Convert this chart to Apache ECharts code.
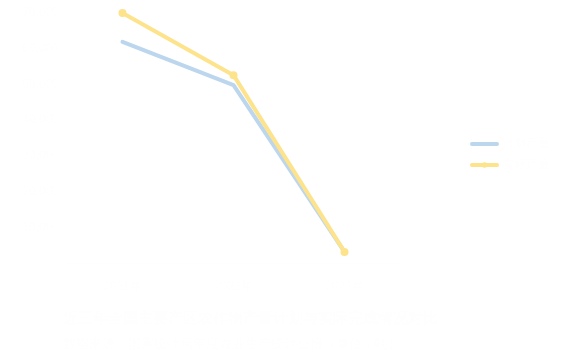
<!DOCTYPE html>
<html>
<head>
<meta charset="utf-8">
<script src="https://cdn.jsdelivr.net/npm/echarts@6/dist/echarts.min.js"></script>
<style>html,body{margin:0;padding:0;background:#fff;}#c{width:575px;height:362px;}</style>
</head>
<body>
<div id="c"></div>
<script>
var categories = ['2021年', '2022年', '2023年'];
var seriesNames = ['计划产量', '实际产量'];
var planValues = [61900, 49800, 3100];
var actualValues = [70000, 52600, 3100];
var yMin = 0, yMax = 70000, yInterval = 10000;
var titleText = '近三年全国主要产区农作物产量计划与实际完成情况对比';
var subText = '数据来源：国家统计局年度农业生产统计公报（单位：吨）';

var textColor = '#fefefe';
var chart = echarts.init(document.getElementById('c'));
chart.setOption({
  backgroundColor: '#ffffff',
  animation: false,
  title: {
    text: titleText,
    subtext: subText,
    left: 58,
    top: 306,
    itemGap: 12,
    textStyle: { color: textColor, fontSize: 15, fontWeight: 'bold' },
    subtextStyle: { color: textColor, fontSize: 13 }
  },
  legend: {
    orient: 'vertical',
    right: 20,
    top: 133,
    itemWidth: 25,
    itemHeight: 7,
    itemGap: 9,
    textStyle: { color: textColor },
    data: [
      { name: seriesNames[0], itemStyle: { opacity: 0 }, lineStyle: { width: 4, cap: 'round' } },
      { name: seriesNames[1], lineStyle: { width: 4, cap: 'round' } }
    ]
  },
  grid: { left: 67, right: 175, top: 13, bottom: 99 },
  xAxis: {
    type: 'category',
    data: categories,
    boundaryGap: true,
    axisLine: { lineStyle: { color: textColor } },
    axisTick: { show: false },
    axisLabel: { color: textColor, fontSize: 12, margin: 18 }
  },
  yAxis: {
    type: 'value',
    min: yMin, max: yMax, interval: yInterval,
    axisLine: { show: false },
    axisTick: { show: false },
    splitLine: { show: false },
    axisLabel: { color: textColor, fontSize: 12 }
  },
  series: [
    {
      name: seriesNames[0], type: 'line', data: planValues,
      symbol: 'none',
      lineStyle: { width: 4, color: '#bcd6ee', cap: 'round' },
      itemStyle: { color: '#bcd6ee' }
    },
    {
      name: seriesNames[1], type: 'line', data: actualValues,
      symbol: 'circle', symbolSize: 8,
      lineStyle: { width: 4, color: '#fde38c', cap: 'round' },
      itemStyle: { color: '#fde38c' }
    }
  ]
});
</script>
</body>
</html>
